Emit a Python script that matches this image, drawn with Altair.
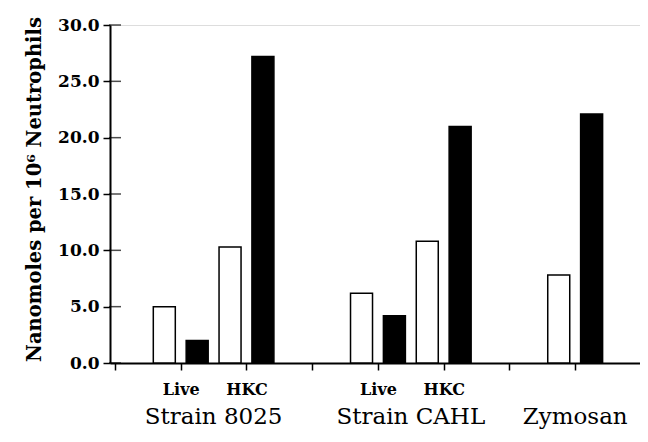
import altair as alt
import pandas as pd

# Bar data
bar_pos = [1.5, 2.5, 3.5, 4.5, 7.5, 8.5, 9.5, 10.5, 13.5, 14.5]
bar_fill = ["open", "filled", "open", "filled", "open", "filled", "open", "filled", "open", "filled"]
bar_values = [5.0, 2.0, 10.3, 27.2, 6.2, 4.2, 10.8, 21.0, 7.8, 22.1]

# Axis / labels
x_tick_values = [0, 2, 4, 6, 8, 10, 12, 14]
y_tick_values = [0, 5, 10, 15, 20, 25, 30]
group_names = ["Strain 8025", "Strain CAHL", "Zymosan"]
group_pos = [3, 9, 14]

bars_df = pd.DataFrame({"pos": bar_pos, "fill": bar_fill, "value": bar_values})
groups_df = pd.DataFrame({"pos": group_pos, "name": group_names})
yticks_df = pd.DataFrame({"v": y_tick_values})

SERIF = "DejaVu Serif"

x_scale = alt.Scale(domain=[0, 15.82], nice=False, zero=False)
y_scale = alt.Scale(domain=[0, 30], nice=False)

label_expr = ("datum.value == 2 || datum.value == 8 ? 'Live' : "
              "(datum.value == 4 || datum.value == 10 ? 'HKC' : '')")

bars = alt.Chart(bars_df).mark_bar(size=22, stroke="black", strokeWidth=1.5).encode(
    x=alt.X("pos:Q", scale=x_scale,
            axis=alt.Axis(values=x_tick_values, labelExpr=label_expr, title=None,
                          grid=False, domainColor="black", domainWidth=2,
                          tickColor="black", tickWidth=1.5, tickSize=7,
                          labelFont=SERIF, labelFontWeight="bold", labelFontSize=16,
                          labelColor="black", labelPadding=11)),
    y=alt.Y("value:Q", scale=y_scale,
            axis=alt.Axis(values=y_tick_values, format=".1f", grid=False,
                          title="Nanomoles per 10⁶ Neutrophils",
                          titleFont=SERIF, titleFontWeight="bold", titleFontSize=19.5,
                          titleColor="black", titlePadding=13, titleY=164,
                          domainColor="black", domainWidth=2,
                          tickColor="black", tickWidth=1.5, tickSize=7,
                          labelFont=SERIF, labelFontWeight="bold", labelFontSize=17,
                          labelColor="black", labelPadding=4)),
    color=alt.Color("fill:N", scale=alt.Scale(domain=["open", "filled"], range=["white", "black"]),
                    legend=None),
)

inner_ticks = alt.Chart(yticks_df).mark_tick(orient="horizontal", size=12, thickness=1.5,
                                             color="black").encode(
    x=alt.datum(0, scale=x_scale),
    y=alt.Y("v:Q", scale=y_scale),
)

group_text = alt.Chart(groups_df).mark_text(font=SERIF, fontSize=23, color="black",
                                            baseline="middle", align="center").encode(
    x=alt.X("pos:Q", scale=x_scale),
    y=alt.value(392),
    text="name:N",
)

chart = alt.layer(bars, inner_ticks, group_text).properties(
    width=530, height=338,
    autosize=alt.AutoSizeParams(type="none"),
    padding={"left": 102, "top": 17, "right": 0, "bottom": 71},
).configure_view(stroke=None).configure(background="white")

chart.save("out.html", embed_options={"renderer": "svg", "actions": False})
